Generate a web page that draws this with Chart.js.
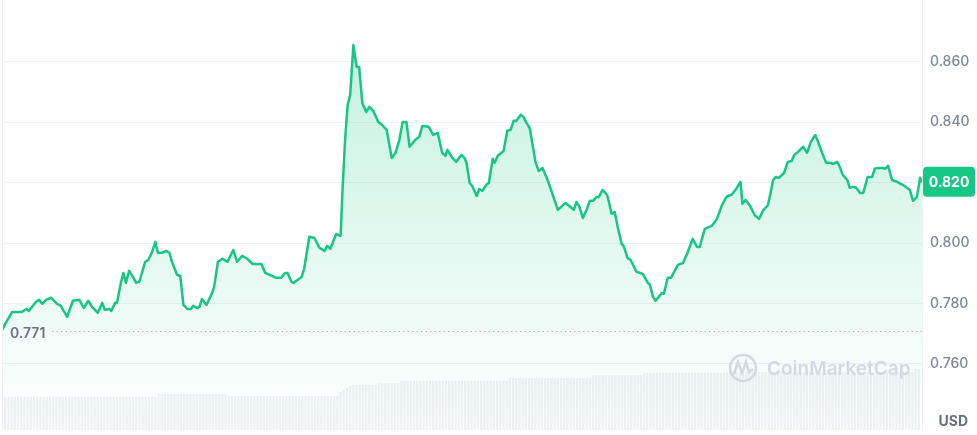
<!DOCTYPE html>
<html>
<head>
<meta charset="utf-8">
<script src="https://cdn.jsdelivr.net/npm/chart.js@4.4.0/dist/chart.umd.min.js"></script>
<style>
    body { margin: 0; background: #fff; }
    .chart-wrap { position: relative; width: 977px; height: 435px; }
</style>
</head>
<body>
<div class="chart-wrap"><canvas id="priceChart"></canvas></div>
<script>
// minutes since the start of the day
const times = [
    0,6,16,31,38,42,53,58,63,69, 77,86,92,102,111,121,128,135,141,150,
    157,161,168,171,177,180,186,190,194,199, 205,210,215,224,229,235,240,244,251,257,
    262,266,274,279,284,290,296,299,306,309, 313,320,329,332,338,345,353,362,368,376,
    384,392,406,412,429,437,443,447,453,456, 469,473,481,489,497,505,509,514,523,530,
    533,537,541,545,550,555,559,564,570,575, 581,589,595,602,610,616,622,627,633,638,
    647,653,658,668,675,682,689,694,697,705, 711,719,724,727,732,736,743,747,752,758,
    762,768,771,776,785,791,796,801,805,812, 816,821,826,835,840,846,854,862,870,882,
    888,895,899,904,909,915,920,925,931,934, 940,947,950,954,959,964,970,973,979,984,
    993,1003,1011,1014,1019,1023,1028,1033,1036,1042, 1047,1058,1066,1073,1081,1088,1092,1100,1111,1119,
    1127,1133,1136,1142,1149,1156,1159,1164,1171,1178, 1185,1191,1199,1207,1211,1216,1224,1230,1236,1240,
    1246,1254,1260,1266,1273,1277,1283,1290,1296,1301, 1307,1310,1316,1323,1327,1332,1337,1343,1348,1355,
    1362,1366,1371,1379,1382,1387,1393,1401,1410,1421, 1426,1432,1437,1440
];

const prices = [
    0.7712,0.7736,0.7772,0.7772,0.7782,0.7775,0.7805,0.7812,0.7799,0.7812,
    0.7819,0.7799,0.7792,0.7756,0.7809,0.7812,0.7785,0.7809,0.7789,0.7769,
    0.7802,0.7779,0.7782,0.7775,0.7802,0.7802,0.7868,0.7901,0.7868,0.7908,
    0.7888,0.7868,0.7872,0.7938,0.7944,0.7971,0.8004,0.7968,0.7968,0.7974,
    0.7968,0.7938,0.7895,0.7891,0.7795,0.7782,0.7782,0.7792,0.7785,0.7789,
    0.7815,0.7795,0.7835,0.7855,0.7938,0.7948,0.7938,0.7977,0.7938,0.7958,
    0.7948,0.7931,0.7931,0.7901,0.7885,0.7885,0.7901,0.7901,0.7872,0.7868,
    0.7888,0.7915,0.8021,0.8017,0.7984,0.7974,0.7991,0.7981,0.8030,0.8024,
    0.8176,0.8342,0.8458,0.8491,0.8656,0.8583,0.8583,0.8464,0.8434,0.8451,
    0.8438,0.8401,0.8391,0.8375,0.8282,0.8299,0.8342,0.8401,0.8401,0.8319,
    0.8342,0.8352,0.8388,0.8385,0.8358,0.8365,0.8299,0.8289,0.8309,0.8282,
    0.8269,0.8292,0.8282,0.8266,0.8199,0.8189,0.8156,0.8179,0.8173,0.8193,
    0.8199,0.8279,0.8266,0.8289,0.8305,0.8372,0.8375,0.8405,0.8405,0.8425,
    0.8418,0.8398,0.8381,0.8269,0.8239,0.8249,0.8209,0.8160,0.8110,0.8133,
    0.8123,0.8110,0.8136,0.8120,0.8083,0.8110,0.8140,0.8140,0.8153,0.8153,
    0.8176,0.8160,0.8136,0.8097,0.8103,0.8050,0.7997,0.7991,0.7951,0.7944,
    0.7905,0.7898,0.7868,0.7862,0.7822,0.7809,0.7822,0.7835,0.7832,0.7885,
    0.7885,0.7928,0.7934,0.7968,0.8014,0.7987,0.7987,0.8047,0.8057,0.8080,
    0.8126,0.8150,0.8156,0.8160,0.8179,0.8203,0.8130,0.8143,0.8123,0.8093,
    0.8080,0.8107,0.8126,0.8209,0.8219,0.8216,0.8232,0.8269,0.8272,0.8292,
    0.8302,0.8319,0.8299,0.8335,0.8358,0.8338,0.8302,0.8266,0.8266,0.8262,
    0.8269,0.8259,0.8226,0.8209,0.8183,0.8186,0.8183,0.8166,0.8166,0.8219,
    0.8219,0.8246,0.8249,0.8249,0.8246,0.8256,0.8209,0.8203,0.8193,0.8176,
    0.8140,0.8153,0.8216,0.8203
];

// volume (millions USD), one bar every 5 minutes
const volumes = [
    330,330,330,330,330,330,330,330,330,330,330,330,330,330,330,330,330,330,330,330,
    330,330,330,330,330,330,330,330,330,330,330,330,330,330,330,330,330,330,330,330,
    330,330,330,330,330,330,330,330,330,
    360,360,360,360,360,360,360,360,360,360,360,360,360,360,360,360,360,360,360,360,360,360,
    340,340,340,340,340,340,340,340,340,340,340,340,340,340,340,340,340,340,340,340,
    340,340,340,340,340,340,340,340,340,340,340,340,340,340,340,
    380,400,420,440,
    450,450,450,450,450,450,450,450,
    470,470,470,470,470,470,470,
    490,490,490,490,490,490,490,490,490,490,490,490,490,490,490,490,490,
    490,490,490,490,490,490,490,490,490,490,490,490,490,490,490,490,490,
    520,520,520,520,520,520,520,520,520,520,520,520,520,
    520,520,520,520,520,520,520,520,520,520,520,520,520,
    550,550,550,550,550,550,550,550,550,550,550,550,550,550,550,550,
    570,570,570,570,570,570,570,570,570,570,570,570,570,
    570,570,570,570,570,570,570,570,570,570,570,570,570,
    580,580,580,580,580,580,580,580,580,580,580,580,580,580,580,580,580,580,580,580,
    580,580,580,580,580,580,580,580,580,580,580,580,580,580,580,580,580,580,580,580,
    580,580,580,580,580,580,580,580,580,580,580,580,580,580,580,580,580,580,580,
    610,610
];

const yTicks = [0.76, 0.78, 0.80, 0.82, 0.84, 0.86];
const refPrice = 0.771;   // opening price line

const green = '#16c784';
const gridColor = '#eff2f5';

Chart.defaults.font.family = 'Inter, "Noto Sans", sans-serif';

// extras: left border, opening price line, current price badge, USD, watermark
const overlayPlugin = {
    id: 'overlay',
    afterDatasetsDraw(chart) {
        const { ctx, chartArea, scales } = chart;
        const y = scales.y;
        ctx.save();

        // left border
        ctx.strokeStyle = gridColor;
        ctx.lineWidth = 1;
        ctx.beginPath();
        ctx.moveTo(chartArea.left + 0.5, chartArea.top);
        ctx.lineTo(chartArea.left + 0.5, chartArea.bottom);
        ctx.stroke();

        // opening price dotted line
        const ry = Math.round(y.getPixelForValue(refPrice)) + 0.5;
        ctx.strokeStyle = '#d9a9ad';
        ctx.setLineDash([1.5, 3]);
        ctx.beginPath();
        ctx.moveTo(chartArea.left + 50, ry);
        ctx.lineTo(chartArea.right, ry);
        ctx.stroke();
        ctx.setLineDash([]);
        ctx.fillStyle = '#69727f';
        ctx.font = '600 14px Inter, sans-serif';
        ctx.textAlign = 'left';
        ctx.textBaseline = 'middle';
        ctx.fillText(refPrice.toFixed(3), chartArea.left + 8, ry + 2);

        // watermark
        const wx = chartArea.right - 179, wy = chartArea.bottom - 62;
        ctx.strokeStyle = '#d3d9e4';
        ctx.lineWidth = 2.6;
        ctx.beginPath();
        ctx.arc(wx, wy, 13, 0, Math.PI * 2);
        ctx.stroke();
        ctx.beginPath();
        ctx.moveTo(wx - 9, wy + 6);
        ctx.lineTo(wx - 5, wy - 6);
        ctx.lineTo(wx - 1, wy + 5);
        ctx.lineTo(wx + 3, wy - 6);
        ctx.lineTo(wx + 6, wy + 4);
        ctx.lineTo(wx + 10, wy + 1);
        ctx.stroke();
        ctx.fillStyle = '#d3d9e4';
        ctx.font = '600 19px Inter, sans-serif';
        ctx.textAlign = 'left';
        ctx.fillText('CoinMarketCap', wx + 24, wy + 1);

        ctx.restore();
    },
    afterDraw(chart) {
        const { ctx, chartArea, scales } = chart;
        ctx.save();

        // current price badge
        const last = prices[prices.length - 1];
        const by = scales.y.getPixelForValue(last);
        const bx = chartArea.right + 1, bw = 52, bh = 30;
        ctx.fillStyle = green;
        ctx.beginPath();
        ctx.roundRect(bx, by - bh / 2, bw, bh, 4);
        ctx.fill();
        ctx.fillStyle = '#fff';
        ctx.font = '700 14px Inter, sans-serif';
        ctx.textAlign = 'center';
        ctx.textBaseline = 'middle';
        ctx.fillText(last.toFixed(3), bx + bw / 2, by + 1);

        // currency label
        ctx.fillStyle = '#666e80';
        ctx.font = '700 14px Inter, sans-serif';
        ctx.textAlign = 'right';
        ctx.fillText('USD', chart.width - 9, chartArea.bottom - 8);

        ctx.restore();
    }
};

const ctx = document.getElementById('priceChart').getContext('2d');
new Chart(ctx, {
    data: {
        datasets: [{
            type: 'line',
            data: times.map((t, i) => ({ x: t, y: prices[i] })),
            borderColor: green,
            borderWidth: 2.5,
            borderJoinStyle: 'round',
            borderCapStyle: 'round',
            pointRadius: 0,
            tension: 0,
            fill: 'start',
            backgroundColor: (c) => {
                const area = c.chart.chartArea;
                if (!area) return 'rgba(22,199,132,0.1)';
                const g = c.chart.ctx.createLinearGradient(0, area.top, 0, area.bottom);
                g.addColorStop(0, 'rgba(22,199,132,0.28)');
                g.addColorStop(1, 'rgba(22,199,132,0)');
                return g;
            },
            yAxisID: 'y',
            order: 1
        }, {
            type: 'bar',
            data: volumes.map((v, i) => ({ x: i * 5, y: v })),
            backgroundColor: '#eef1f4',
            barPercentage: 1,
            categoryPercentage: 0.7,
            yAxisID: 'vol',
            order: 2
        }]
    },
    options: {
        responsive: true,
        maintainAspectRatio: false,
        animation: false,
        layout: { padding: { left: 2, top: 0, right: 0, bottom: 5 } },
        plugins: {
            legend: { display: false },
            tooltip: { enabled: false }
        },
        scales: {
            x: {
                type: 'linear',
                min: 0,
                max: 1440,
                offset: false,
                display: false
            },
            y: {
                position: 'right',
                min: 0.7381,
                max: 0.8805,
                afterBuildTicks: (s) => { s.ticks = yTicks.map(v => ({ value: v })); },
                afterFit: (s) => { s.width = 55; s.paddingTop = 0; s.paddingBottom = 0; },
                grid: { color: gridColor, drawTicks: false },
                border: { display: true, color: gridColor },
                ticks: {
                    padding: 8,
                    color: '#7e8798',
                    font: { size: 14, weight: 500 },
                    callback: (v) => v.toFixed(3)
                }
            },
            vol: {
                display: false,
                min: 0,
                max: 4300
            }
        }
    },
    plugins: [overlayPlugin]
});
</script>
</body>
</html>
